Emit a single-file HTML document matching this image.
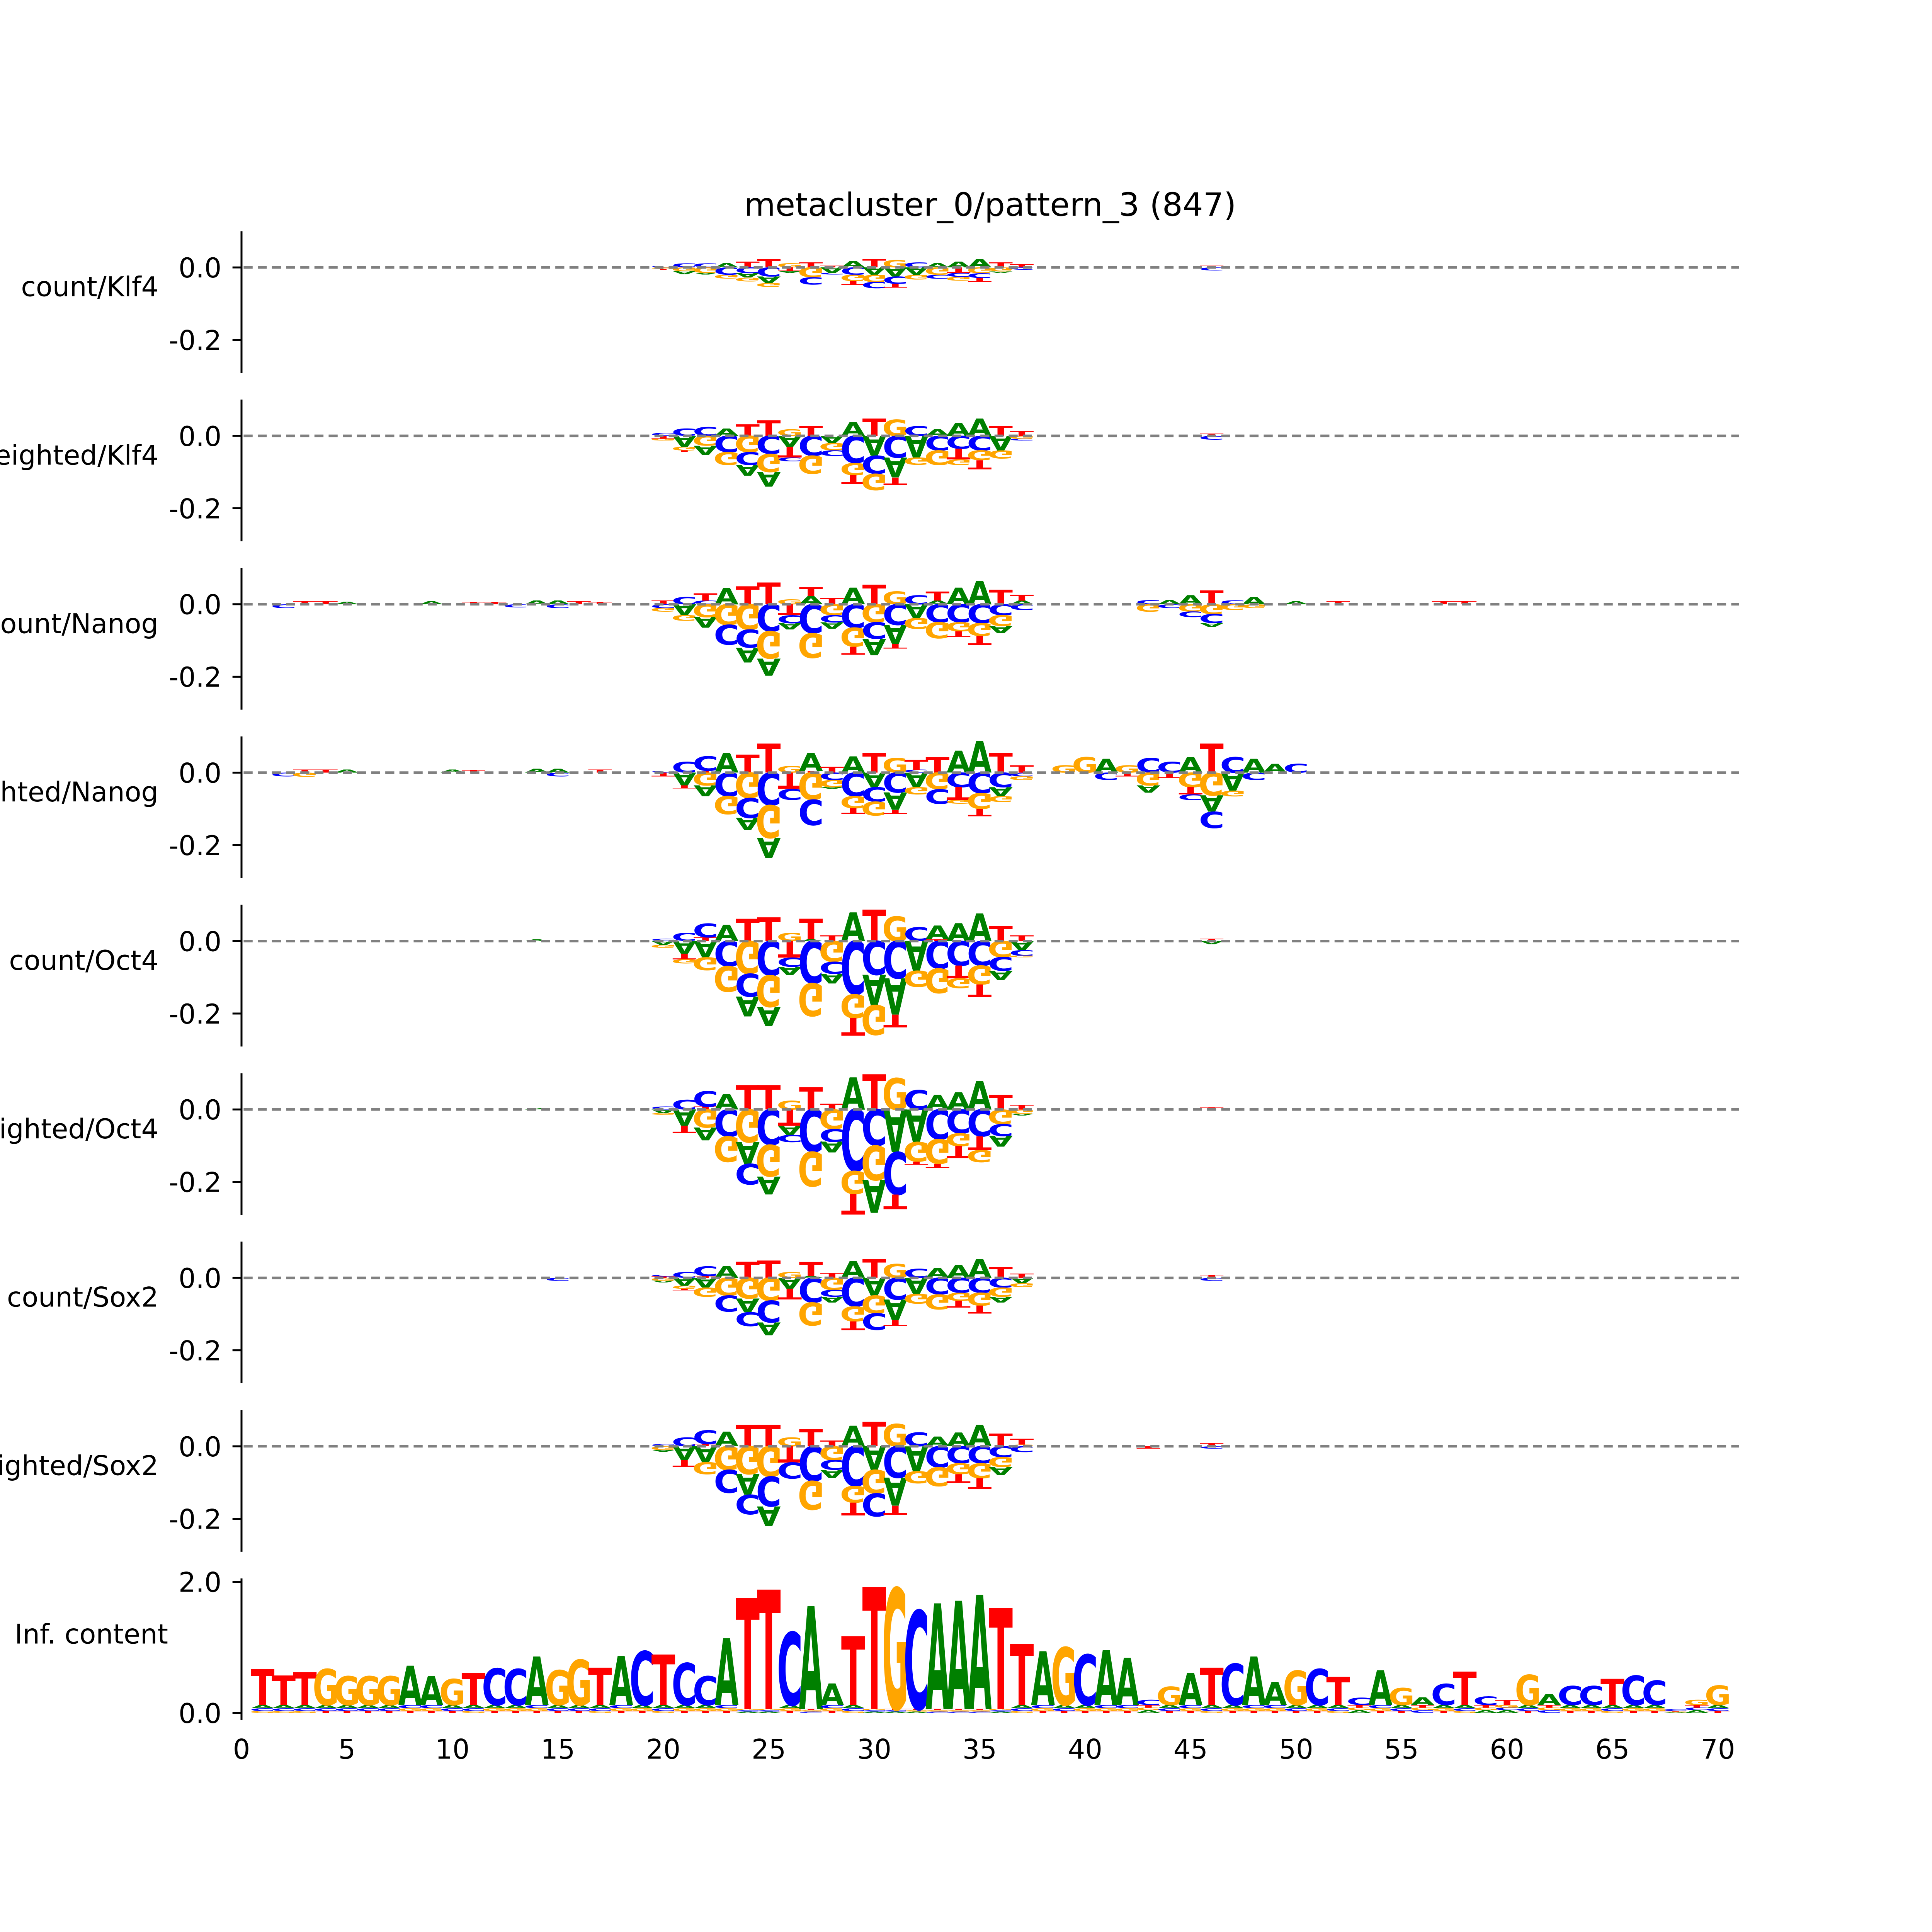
<!DOCTYPE html>
<html><head><meta charset="utf-8"><title>metacluster_0/pattern_3 (847)</title>
<style>
html,body{margin:0;padding:0;background:#fff;overflow:hidden;width:100vw;height:100vh;}
svg{display:block;width:100vw;height:100vh;}
text{font-family:"DejaVu Sans","Liberation Sans",sans-serif;}
</style></head>
<body>
<svg id="chart" xmlns="http://www.w3.org/2000/svg" viewBox="0 0 6000 6000" preserveAspectRatio="none">
<rect x="0" y="0" width="6000" height="6000" fill="#fff"/>
<text x="3075" y="670" font-size="100" text-anchor="middle">metacluster_0/pattern_3 (847)</text>
<g id="panels"></g>
</svg>
<script>
// ---------- data ----------
const panelNames = ["count/Klf4","weighted/Klf4","count/Nanog","weighted/Nanog","count/Oct4","weighted/Oct4","count/Sox2","weighted/Sox2"];
const corePositions = [20,21,22,23,24,25,26,27,28,29,30,31,32,33,34,35,36,37];

const p1A=[0,-.008,-.005,.012,-.012,-.018,-.005,0,-.015,.017,-.02,-.025,-.02,.012,.016,.023,-.004,0];
const p1C=[.004,.011,.011,-.02,-.016,-.025,0,-.02,-.005,-.02,-.017,-.02,.014,-.011,-.011,-.013,0,-.006];
const p1G=[-.004,-.01,-.015,-.01,-.01,-.01,.012,-.027,0,-.017,-.02,.02,-.013,-.02,-.01,-.016,-.011,0];
const p1T=[-.003,0,0,0,.016,.022,-.01,.014,.005,-.01,.023,-.01,0,0,-.015,-.011,.014,.008];

const p2A=[0,-.03,-.025,.02,-.03,-.04,-.03,0,-.02,.038,-.055,-.055,-.06,.018,.035,.048,-.04,0];
const p2C=[.008,.02,.024,-.045,-.035,-.05,-.01,-.055,-.015,-.075,-.05,-.06,.027,-.04,-.035,-.04,0,-.005];
const p2G=[-.005,-.01,-.027,-.035,-.045,-.05,.018,-.05,-.02,-.033,-.045,.045,-.02,-.04,-.015,-.027,-.022,-.008];
const p2T=[-.008,-.005,0,0,.032,.043,-.03,.027,0,-.025,.048,-.02,0,0,-.03,-.025,.027,.013];

const p3A=[0,-.03,-.03,.045,-.04,-.047,-.017,.022,-.017,.046,-.045,-.052,-.038,.01,.046,.065,-.02,.01];
const p3C=[-.01,.02,.01,-.055,-.05,-.075,-.022,-.08,-.02,-.065,-.046,-.057,.025,-.05,-.05,-.052,-.03,-.015];
const p3G=[-.01,-.015,-.035,-.057,-.07,-.075,.014,-.068,-.03,-.052,-.05,.035,-.03,-.044,-.025,-.035,-.03,0];
const p3T=[.01,0,.02,0,.05,.06,-.03,.025,.017,-.022,.054,-.013,0,.025,-.016,-.025,.04,.016];

const p4A=[0,-.035,-.03,.054,-.033,-.055,0,.05,-.005,.045,-.04,-.048,-.04,0,.06,.087,-.025,0];
const p4C=[.005,.03,.04,-.065,-.055,-.09,-.03,-.07,-.02,-.065,-.04,-.055,.008,-.04,-.04,-.057,-.04,-.01];
const p4G=[0,0,-.035,-.05,-.07,-.09,.018,-.075,-.02,-.033,-.038,.04,-.02,-.046,-.01,-.043,-.016,-.01];
const p4T=[-.01,-.008,.005,0,.05,.08,-.045,.005,.016,-.016,.055,-.01,.027,.043,-.035,-.02,.055,.02];

const p5A=[-.01,-.035,-.045,.045,-.055,-.052,-.022,.005,-.027,.079,-.084,-.1,-.082,.038,.049,.076,-.025,-.025];
const p5C=[.006,.022,.038,-.07,-.063,-.095,-.025,-.117,-.033,-.147,-.093,-.103,.038,-.076,-.068,-.068,-.038,-.015];
const p5G=[-.008,-.012,-.035,-.07,-.09,-.087,.022,-.09,-.057,-.065,-.082,.068,-.044,-.068,-.027,-.052,-.044,-.005];
const p5T=[0,-.015,.01,0,.062,.065,-.046,.057,.016,-.049,.087,-.035,0,.005,-.035,-.035,.041,.016];

const p6A=[-.01,-.045,-.035,.043,-.06,-.049,-.025,0,-.03,.089,-.09,-.118,-.09,.04,.048,.078,-.03,-.005];
const p6C=[.008,.027,.043,-.075,-.057,-.098,-.02,-.117,-.035,-.17,-.1,-.117,.054,-.082,-.066,-.074,-.033,0];
const p6G=[-.005,0,-.05,-.07,-.09,-.087,.024,-.095,-.054,-.063,-.095,.087,-.054,-.068,-.035,-.033,-.04,-.012];
const p6T=[0,-.02,.008,0,.067,.067,-.045,.062,.016,-.057,.097,-.04,-.008,-.01,-.033,-.038,.04,.013];

const p7A=[-.005,-.022,-.027,.033,-.038,-.035,-.03,.005,-.016,.046,-.049,-.057,-.044,.027,.035,.052,-.016,-.015];
const p7C=[.005,.016,.027,-.044,-.038,-.06,0,-.068,-.019,-.079,-.046,-.06,.025,-.046,-.041,-.041,-.027,0];
const p7G=[-.008,-.008,-.025,-.049,-.057,-.063,.016,-.063,-.033,-.041,-.049,.038,-.027,-.041,-.022,-.035,-.025,-.01];
const p7T=[.004,-.005,.005,0,.044,.048,-.03,.039,.014,-.024,.052,-.016,0,0,-.019,-.022,.03,.012];

const p8A=[-.005,-.038,-.044,.04,-.057,-.054,0,0,-.022,.057,-.065,-.077,-.069,.027,.038,.059,-.022,0];
const p8C=[.006,.024,.038,-.063,-.054,-.082,-.044,-.096,-.027,-.11,-.063,-.087,.038,-.058,-.047,-.047,-.03,-.016];
const p8G=[-.01,0,-.033,-.065,-.077,-.084,.024,-.079,-.038,-.046,-.065,.062,-.033,-.052,-.03,-.041,-.027,.005];
const p8T=[0,-.019,.006,0,.059,.059,-.045,.048,.016,-.035,.067,-.025,0,0,-.024,-.03,.035,.016];

// flank extras: [panel index, position, letter, value]
const flankExtras = [
 [2,2,"C",-.01],[2,3,"T",.008],[2,4,"T",.008],[2,5,"A",.007],[2,9,"A",.008],[2,11,"T",.006],[2,12,"T",.006],[2,14,"A",.01],[2,15,"A",.01],[2,16,"T",.008],[2,17,"T",.006],[2,13,"C",-.008],[2,15,"C",-.01],
 [2,43,"C",.012],[2,43,"G",-.02],[2,44,"A",.012],[2,44,"C",-.01],[2,45,"A",.025],[2,45,"G",-.02],[2,45,"C",-.015],[2,46,"T",.038],[2,46,"G",-.027],[2,46,"C",-.025],[2,46,"A",-.01],[2,47,"C",.011],[2,47,"G",-.015],[2,48,"A",.02],[2,48,"G",-.01],[2,50,"A",.008],[2,52,"T",.008],[2,57,"T",.008],[2,58,"T",.008],
 [3,2,"C",-.01],[3,3,"T",.008],[3,4,"T",.008],[3,5,"A",.008],[3,10,"A",.008],[3,11,"T",.007],[3,14,"A",.01],[3,15,"A",.01],[3,17,"T",.008],[3,15,"C",-.01],[3,3,"G",-.012],
 [3,39,"G",.02],[3,40,"G",.043],[3,41,"A",.038],[3,41,"C",-.02],[3,42,"G",.02],[3,42,"T",-.01],[3,43,"C",.04],[3,43,"G",-.035],[3,43,"A",-.02],[3,44,"C",.03],[3,44,"T",-.015],[3,45,"A",.043],[3,45,"G",-.04],[3,45,"T",-.02],[3,45,"C",-.015],[3,46,"T",.08],[3,46,"G",-.063],[3,46,"A",-.045],[3,46,"C",-.045],[3,47,"C",.043],[3,47,"A",-.05],[3,47,"G",-.015],[3,48,"A",.038],[3,48,"C",-.02],[3,49,"A",.024],[3,50,"C",.024],
 [0,46,"C",-.008],[0,46,"T",.005],[1,46,"C",-.01],[1,46,"T",.006],[4,46,"T",.006],[4,46,"A",-.008],[5,46,"T",.006],[6,46,"T",.008],[6,46,"C",-.008],[7,46,"T",.008],[7,46,"C",-.006],
 [4,14,"A",.005],[5,14,"A",.005],[6,15,"C",-.008],[7,43,"T",-.006]
];

// information content panel (positions 1..70)
const icA=[.05,.05,.05,.05,.05,.05,.05,.60,.44,.05,.05,.05,.05,.74,.05,.05,.05,.75,.05,.05,.05,.05,1.02,.02,.02,.05,1.57,.33,.05,.02,.02,.02,1.61,1.65,1.74,.02,.05,.82,.05,.05,.84,.72,.04,.05,.49,.05,.05,.74,.35,.05,.05,.05,.04,.53,.05,.12,.05,.05,.04,.04,.05,.17,.05,.05,.05,.05,.05,.01,.04,.05];
const icC=[.04,.04,.04,.04,.04,.04,.04,.05,.05,.04,.04,.56,.55,.05,.04,.04,.04,.05,.82,.04,.64,.44,.05,.02,.02,1.11,.02,.05,.04,.02,.02,1.50,.02,.02,.02,.02,.04,.05,.04,.77,.05,.05,.08,.04,.05,.04,.63,.05,.05,.04,.55,.04,.11,.05,.04,.04,.32,.04,.13,.04,.04,.04,.29,.29,.04,.45,.37,.03,.04,.04];
const icG=[.03,.03,.03,.55,.44,.44,.44,.04,.04,.40,.03,.04,.04,.04,.53,.69,.03,.04,.04,.03,.04,.04,.04,.02,.02,.04,.02,.04,.03,.02,1.84,.02,.02,.02,.02,.02,.03,.04,.88,.04,.04,.04,.04,.28,.04,.03,.04,.04,.04,.52,.04,.03,.04,.04,.26,.04,.04,.03,.04,.04,.46,.04,.04,.04,.03,.04,.04,.01,.08,.30];
const icT=[.55,.45,.50,.03,.03,.03,.03,.03,.03,.03,.49,.03,.03,.03,.03,.03,.57,.03,.03,.77,.03,.03,.03,1.69,1.82,.03,.02,.03,1.05,1.86,.02,.02,.02,.02,.02,1.54,.93,.03,.03,.03,.03,.03,.04,.03,.03,.57,.03,.03,.03,.03,.03,.43,.04,.03,.03,.04,.03,.51,.04,.08,.03,.04,.03,.03,.40,.03,.03,.01,.04,.03];

const xTicks=[0,5,10,15,20,25,30,35,40,45,50,55,60,65,70];
const contribYTicks=[0.0,-0.2];
const icYTicks=[0.0,2.0];

// ---------- layout ----------
const X0=750, XU=65.5;
const PANEL_TOP0=718, PITCH=523, PANEL_H=440;
const CONTRIB_MAX=0.1, CONTRIB_MIN=-0.291;
const IC_MAX=2.05, IC_MIN=-0.11;
const LETTER_W=74;
const COLORS={A:"#008000",C:"#0000ff",G:"#ffa500",T:"#ff0000"};
const INK={A:0.77,C:0.68,G:0.74,T:0.68};
const CAP=0.729;
const NS="http://www.w3.org/2000/svg";
const root=document.getElementById("panels");

function xScale(p){return X0+p*XU;}
function mkYScale(top,max,min){return v=>top+(max-v)/(max-min)*PANEL_H;}

function glyph(g,letter,cx,yTop,yBot,flip){
  const h=yBot-yTop; if(h<0.5) return;
  const F=100;
  const sx=LETTER_W/(INK[letter]*F), sy=h/(CAP*F);
  const t=document.createElementNS(NS,"text");
  
  
  t.setAttribute("x","0");t.setAttribute("y","0");
  t.setAttribute("font-size",F);t.setAttribute("font-weight","bold");
  t.setAttribute("text-anchor","middle");
  t.setAttribute("fill",COLORS[letter]);
  if(!flip) t.setAttribute("transform",`translate(${cx},${yBot}) scale(${sx},${sy})`);
  else t.setAttribute("transform",`translate(${cx},${yTop}) scale(${sx},${-sy})`);
  t.textContent=letter;
  g.appendChild(t);
}

function drawColumn(g,p,vals,yS){
  const cx=xScale(p);
  const pos=Object.keys(vals).filter(k=>vals[k]>0).sort((a,b)=>vals[a]-vals[b]);
  let acc=0;
  pos.forEach(k=>{const y0=yS(acc), y1=yS(acc+vals[k]); glyph(g,k,cx,y1,y0,false); acc+=vals[k];});
  const neg=Object.keys(vals).filter(k=>vals[k]<0).sort((a,b)=>vals[a]-vals[b]);
  acc=0;
  neg.forEach(k=>{const y0=yS(acc), y1=yS(acc+vals[k]); glyph(g,k,cx,y0,y1,true); acc+=vals[k];});
}

function axis(g,top,yS,ticks,label,labelX){
  const sp=document.createElementNS(NS,"line");
  sp.setAttribute("x1",X0);sp.setAttribute("x2",X0);sp.setAttribute("y1",top);sp.setAttribute("y2",top+PANEL_H);
  sp.setAttribute("stroke","#000");sp.setAttribute("stroke-width","6");
  
  
  g.appendChild(sp);
  ticks.forEach(v=>{
    const y=yS(v);
    const tl=document.createElementNS(NS,"line");
    tl.setAttribute("x1",X0-28);tl.setAttribute("x2",X0);tl.setAttribute("y1",y);tl.setAttribute("y2",y);
    tl.setAttribute("stroke","#000");tl.setAttribute("stroke-width","6");
    
    
    g.appendChild(tl);
    const tx=document.createElementNS(NS,"text");
    tx.setAttribute("x",X0-62);tx.setAttribute("y",y+31);tx.setAttribute("font-size","84");tx.setAttribute("text-anchor","end");
    
    
    tx.textContent=v.toFixed(1);
    g.appendChild(tx);
  });
  const lb=document.createElementNS(NS,"text");
  lb.setAttribute("x",labelX);lb.setAttribute("y",top+202);lb.setAttribute("font-size","84");lb.setAttribute("text-anchor","end");
  
  
  lb.textContent=label;
  g.appendChild(lb);
}

function zeroLine(g,yS){
  const l=document.createElementNS(NS,"line");
  l.setAttribute("x1",xScale(0.1));l.setAttribute("x2",xScale(71));
  l.setAttribute("y1",yS(0));l.setAttribute("y2",yS(0));
  l.setAttribute("stroke","#808080");l.setAttribute("stroke-width","8");l.setAttribute("stroke-dasharray","28 16");
  
  
  g.appendChild(l);
}

const contribData=[[p1A,p1C,p1G,p1T],[p2A,p2C,p2G,p2T],[p3A,p3C,p3G,p3T],[p4A,p4C,p4G,p4T],[p5A,p5C,p5G,p5T],[p6A,p6C,p6G,p6T],[p7A,p7C,p7G,p7T],[p8A,p8C,p8G,p8T]];

contribData.forEach((arrs,pi)=>{
  const top=PANEL_TOP0+pi*PITCH;
  const yS=mkYScale(top,CONTRIB_MAX,CONTRIB_MIN);
  const g=document.createElementNS(NS,"g");
  
  
  root.appendChild(g);
  const cols={};
  corePositions.forEach((p,i)=>{cols[p]={A:arrs[0][i],C:arrs[1][i],G:arrs[2][i],T:arrs[3][i]};});
  flankExtras.forEach(e=>{ if(e[0]!==pi) return; if(!cols[e[1]]) cols[e[1]]={A:0,C:0,G:0,T:0}; cols[e[1]][e[2]]=e[3]; });
  Object.keys(cols).forEach(p=>drawColumn(g,+p,cols[p],yS));
  zeroLine(g,yS);
  axis(g,top,yS,contribYTicks,panelNames[pi],492);
});

(function(){
  const top=PANEL_TOP0+8*PITCH;
  const yS=mkYScale(top,IC_MAX,IC_MIN);
  const g=document.createElementNS(NS,"g");
  
  
  root.appendChild(g);
  icA.forEach((a,i)=>drawColumn(g,i+1,{A:icA[i],C:icC[i],G:icG[i],T:icT[i]},yS));
  axis(g,top,yS,icYTicks,"Inf. content",522);
  xTicks.forEach(v=>{
    const t=document.createElementNS(NS,"text");
    t.setAttribute("x",xScale(v));t.setAttribute("y","5462");t.setAttribute("font-size","84");t.setAttribute("text-anchor","middle");
    
    
    t.textContent=String(v);
    g.appendChild(t);
  });
})();
</script>
</body></html>
